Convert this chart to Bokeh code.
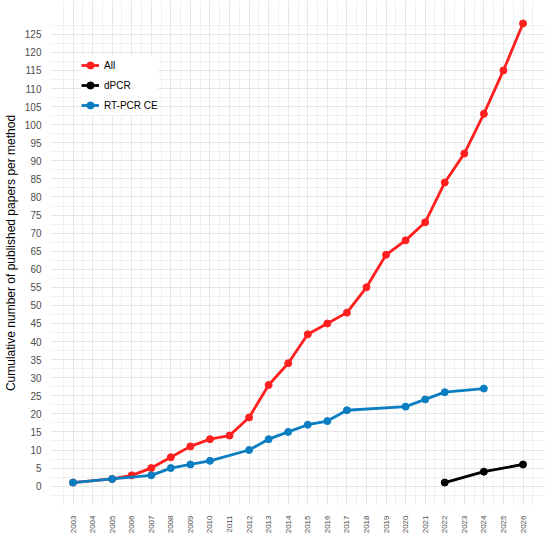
from bokeh.plotting import figure
from bokeh.models import FixedTicker, Range1d, Legend
from bokeh.embed import file_html
from bokeh.resources import INLINE

years_all = [2003, 2005, 2006, 2007, 2008, 2009, 2010, 2011, 2012, 2013, 2014, 2015,
             2016, 2017, 2018, 2019, 2020, 2021, 2022, 2023, 2024, 2025, 2026]
vals_all = [1, 2, 3, 5, 8, 11, 13, 14, 19, 28, 34, 42, 45, 48, 55, 64, 68, 73, 84, 92, 103, 115, 128]

years_dpcr = [2022, 2024, 2026]
vals_dpcr = [1, 4, 6]

years_rt = [2003, 2005, 2007, 2008, 2009, 2010, 2012, 2013, 2014, 2015, 2016, 2017, 2020, 2021, 2022, 2024]
vals_rt = [1, 2, 3, 5, 6, 7, 10, 13, 15, 17, 18, 21, 22, 24, 26, 27]

x_ticks = list(range(2003, 2027))
y_ticks = list(range(0, 130, 5))

FONT = "Liberation Sans"
RED = "#ff1f1f"
BLACK = "#000000"
BLUE = "#0b7ec2"

FW, FH = 495, 505

p = figure(frame_width=FW, frame_height=FH, output_backend="svg", toolbar_location=None,
           x_range=Range1d(2001.85, 2027.15), y_range=Range1d(-5.35, 134.35),
           min_border_top=0, min_border_right=2, min_border_left=4, min_border_bottom=2)
p.outline_line_color = None
p.background_fill_color = "white"

x_minor = [x - 0.5 for x in x_ticks] + [x_ticks[-1] + 0.5]
y_minor = [y - 2.5 for y in y_ticks] + [y_ticks[-1] + 2.5]
p.xaxis.ticker = FixedTicker(ticks=x_ticks, minor_ticks=x_minor)
p.yaxis.ticker = FixedTicker(ticks=y_ticks, minor_ticks=y_minor)
p.xaxis.major_label_overrides = {x: str(x) for x in x_ticks}
p.xaxis.major_label_orientation = 1.5708
for ax in (p.xaxis[0], p.yaxis[0]):
    ax.axis_line_color = None
    ax.major_tick_line_color = None
    ax.minor_tick_line_color = None
    ax.major_label_text_font = FONT
    ax.major_label_text_color = "#4d4d4d"
p.xaxis.major_label_text_font_size = "8px"
p.xaxis.major_label_standoff = 4
p.yaxis.major_label_text_font_size = "10px"
p.yaxis.major_label_standoff = 3
p.yaxis.axis_label = "Cumulative number of published papers per method"
p.yaxis.axis_label_text_font = FONT
p.yaxis.axis_label_text_font_size = "12px"
p.yaxis.axis_label_text_font_style = "normal"
p.yaxis.axis_label_text_color = "#000000"
p.yaxis.axis_label_standoff = 4

for g in (p.xgrid[0], p.ygrid[0]):
    g.grid_line_color = "#e6e6e6"
    g.grid_line_width = 1
    g.minor_grid_line_color = "#f0f0f0"
    g.minor_grid_line_width = 1

series = [("All", years_all, vals_all, RED),
          ("dPCR", years_dpcr, vals_dpcr, BLACK),
          ("RT-PCR CE", years_rt, vals_rt, BLUE)]

items = []
for name, xs, ys, col in series:
    l = p.line(xs, ys, line_color=col, line_width=2.8)
    s = p.scatter(xs, ys, size=7, fill_color=col, line_color=col)
    items.append((name, [l, s]))

PAD, ROW = 6, 20
leg_h = 2 * PAD + 3 * ROW
leg_top = 43
legend = Legend(items=items, location=(31, FH - leg_top - leg_h))
legend.margin = 0
legend.padding = PAD
legend.spacing = 0
legend.glyph_width = 18
legend.glyph_height = ROW
legend.label_height = ROW
legend.label_standoff = 5
legend.label_text_font = FONT
legend.label_text_font_size = "10px"
legend.label_text_color = "#000000"
legend.background_fill_color = "white"
legend.background_fill_alpha = 1.0
legend.border_line_color = None
p.add_layout(legend)

open("out.html", "w").write(file_html(p, INLINE))
